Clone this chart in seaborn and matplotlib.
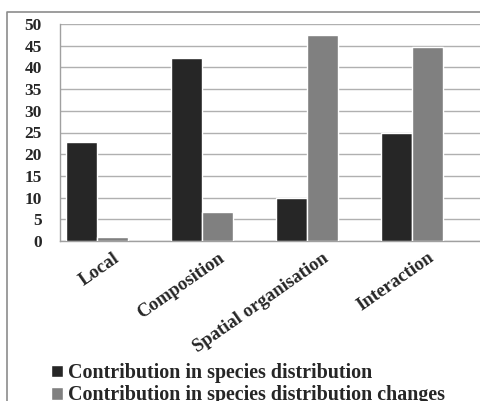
import matplotlib
matplotlib.use("Agg")
from matplotlib import pyplot as plt
from matplotlib.patches import Patch
from matplotlib.lines import Line2D
import seaborn as sns
import numpy as np
import pandas as pd

categories = ['Local', 'Composition', 'Spatial organisation', 'Interaction']
series_names = ['Contribution in species distribution',
                'Contribution in species distribution changes']
distribution = [22.7, 42.2, 9.9, 24.8]
distribution_changes = [1.0, 6.7, 47.4, 44.6]
yticks = [0, 5, 10, 15, 20, 25, 30, 35, 40, 45, 50]

# third empty series keeps the excel-like offset of the bar groups
df = pd.DataFrame({
    'category': categories * 3,
    'series': [series_names[0]] * 4 + [series_names[1]] * 4 + ['empty'] * 4,
    'value': distribution + distribution_changes + [np.nan] * 4,
})

sns.set_style('white')
plt.rcParams['font.family'] = ['Liberation Serif', 'DejaVu Serif']
plt.rcParams['font.weight'] = 'bold'

W, H = 481, 401
fig = plt.figure(figsize=(W / 100, H / 100), dpi=100)
ax = fig.add_axes([60 / W, (H - 241) / H, (480 - 60) / W, (241 - 24) / H])

colors = ['#262626', '#808080', '#ffffff']
sns.barplot(data=df, x='category', y='value', hue='series',
            hue_order=series_names + ['empty'], palette=colors,
            width=0.886, gap=0, dodge=True, errorbar=None,
            saturation=1, ax=ax, legend=False, zorder=3)

ax.set_ylim(0, 50)
ax.set_xlim(-0.5, 3.5)
ax.set_yticks(yticks)
ax.set_yticklabels([str(t) for t in yticks], fontsize=12.5, fontweight='bold')
ax.yaxis.grid(True, color='#b0b0b0', linewidth=1, zorder=0)
ax.set_axisbelow(True)
ax.tick_params(axis='y', length=0, pad=13)

ax.set_xticks(np.arange(len(categories)))
ax.set_xticklabels(categories, rotation=35, ha='right', rotation_mode='anchor',
                   fontsize=13.5, fontweight='bold')
ax.set_xticks(np.arange(-0.5, 4.0, 1.0), minor=True)
ax.tick_params(axis='x', which='major', length=0, pad=6)
ax.tick_params(axis='x', which='minor', length=5, color='#a0a0a0', direction='out')
ax.set_xlabel('')
ax.set_ylabel('')

for s in ['top', 'right']:
    ax.spines[s].set_visible(False)
for s in ['left', 'bottom']:
    ax.spines[s].set_color('#a0a0a0')
    ax.spines[s].set_linewidth(1)

handles = [Patch(facecolor=colors[0]), Patch(facecolor=colors[1])]
fig.legend(handles, series_names, loc='upper left',
           bbox_to_anchor=(41 / W, (H - 353) / H), frameon=False,
           prop={'size': 14.4, 'weight': 'bold'}, handlelength=0.6,
           handleheight=0.6, handletextpad=0.25, labelspacing=0.12,
           borderpad=0)

# outer chart frame (cropped at right and bottom)
fig.add_artist(Line2D([7 / W, 7 / W, 1.0], [0.0, (H - 12) / H, (H - 12) / H],
                      transform=fig.transFigure, color='#8c8c8c', linewidth=1.2))

fig.savefig('out.png', dpi=100)
